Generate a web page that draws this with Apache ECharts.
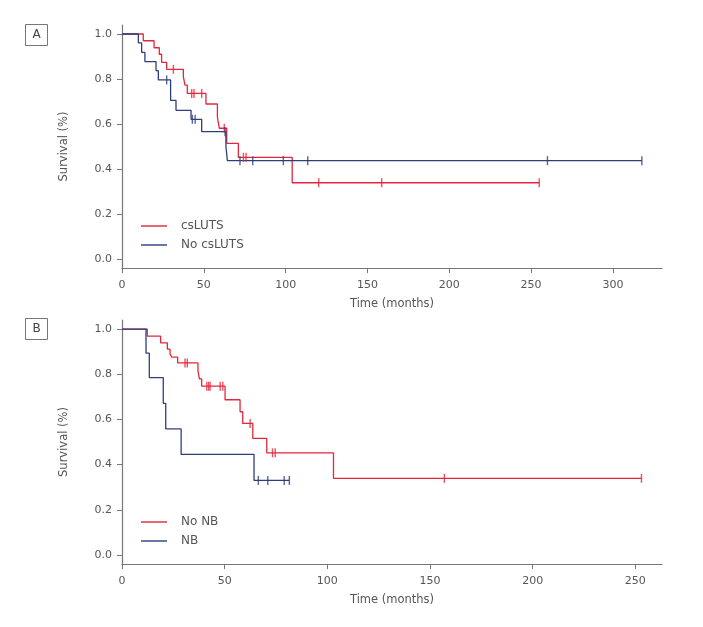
<!DOCTYPE html>
<html><head><meta charset="utf-8">
<script src="https://cdn.jsdelivr.net/npm/echarts@6/dist/echarts.min.js"></script>
<style>html,body{margin:0;padding:0;background:#fff}#c{width:703px;height:627px}</style>
</head><body><div id="c"></div>
<script>
// Panel A
const aRedName = 'csLUTS';
const aRedTimes = [0, 13, 19.6, 22.8, 24.2, 27.3, 37.5, 38.5, 39.9, 51.3, 58.3, 59.5, 64, 71.1, 104];
const aRedSurv  = [1, 0.970, 0.939, 0.910, 0.874, 0.843, 0.810, 0.773, 0.736, 0.689, 0.630, 0.581, 0.514, 0.452, 0.339];
const aRedEnd = 255;
const aRedCensor = [31.4, 42.6, 44, 48.7, 62.5, 74.2, 75.8, 120.2, 158.7, 255];

const aBlueName = 'No csLUTS';
const aBlueTimes = [0, 10, 12, 14, 20.8, 22.2, 29.7, 33, 42.2, 48.7, 63.5, 64.4];
const aBlueSurv  = [1, 0.961, 0.918, 0.877, 0.837, 0.796, 0.705, 0.661, 0.621, 0.566, 0.50, 0.437];
const aBlueEnd = 317.7;
const aBlueCensor = [27.3, 43, 44.7, 63, 72.1, 79.9, 98.6, 113.5, 260, 317.7];

// Panel B
const bRedName = 'No NB';
const bRedTimes = [0, 12.3, 18.8, 22.1, 23.4, 24.2, 27.1, 37, 37.7, 38.8, 50.2, 57.5, 58.8, 63.7, 70.5, 103];
const bRedSurv  = [1, 0.969, 0.939, 0.911, 0.89, 0.876, 0.85, 0.815, 0.779, 0.747, 0.687, 0.634, 0.582, 0.516, 0.452, 0.339];
const bRedEnd = 253;
const bRedCensor = [30.7, 31.8, 41.3, 42.2, 42.9, 47.8, 49.1, 62.4, 73.3, 74.6, 157, 253];

const bBlueName = 'NB';
const bBlueTimes = [0, 11.7, 13.3, 20.1, 21.3, 28.8, 64.3];
const bBlueSurv  = [1, 0.893, 0.785, 0.671, 0.558, 0.445, 0.33];
const bBlueEnd = 81.5;
const bBlueCensor = [66.4, 71, 79, 81.5];

const yTicks = [0, 0.2, 0.4, 0.6, 0.8, 1.0];
const xTicksA = [0, 50, 100, 150, 200, 250, 300];
const xTicksB = [0, 50, 100, 150, 200, 250];

const RED = '#e3263b', BLUE = '#2c3e7e', AX = '#777', TXT = '#555';
const FONT = 'DejaVu Sans';

function stepData(times, surv, end) {
  const d = times.map((t, i) => [t, surv[i]]);
  d.push([end, surv[surv.length - 1]]);
  return d;
}
function censorData(times, surv, cens) {
  return cens.map(c => {
    let idx = 0;
    for (let i = 0; i < times.length; i++) if (times[i] <= c) idx = i;
    return [c, surv[idx]];
  });
}
function lineSeries(name, color, times, surv, end, ax) {
  return { name, type: 'line', step: 'end', xAxisIndex: ax, yAxisIndex: ax,
    data: stepData(times, surv, end), symbol: 'none', showSymbol: false,
    lineStyle: { color, width: 1.3 }, itemStyle: { color }, animation: false, z: 3 };
}
function censorSeries(name, color, times, surv, cens, ax) {
  return { name, type: 'scatter', xAxisIndex: ax, yAxisIndex: ax,
    data: censorData(times, surv, cens), symbol: 'rect', symbolSize: [1.4, 9],
    itemStyle: { color }, animation: false, z: 4, silent: true };
}
function xAxis(idx, max, ticks) {
  return { type: 'value', gridIndex: idx, min: 0, max,
    name: 'Time (months)', nameLocation: 'middle', nameGap: 30,
    nameTextStyle: { color: TXT, fontSize: 11.5, fontFamily: FONT },
    axisLine: { onZero: false, lineStyle: { color: AX, width: 1.2 } },
    axisTick: { show: true, length: 5, lineStyle: { color: AX }, customValues: ticks },
    axisLabel: { color: TXT, fontSize: 11, fontFamily: FONT, margin: 12, customValues: ticks },
    splitLine: { show: false } };
}
function yAxis(idx) {
  return { type: 'value', gridIndex: idx, min: -0.04, max: 1.04,
    name: 'Survival (%)', nameLocation: 'middle', nameGap: 52,
    nameTextStyle: { color: TXT, fontSize: 11.5, fontFamily: FONT },
    axisLine: { show: true, lineStyle: { color: AX, width: 1.2 } },
    axisTick: { show: true, length: 5, lineStyle: { color: AX }, customValues: yTicks },
    axisLabel: { color: TXT, fontSize: 11, fontFamily: FONT, margin: 10, customValues: yTicks,
      formatter: v => v.toFixed(1) },
    splitLine: { show: false } };
}
function legend(names, top) {
  return { data: names, left: 136, top, orient: 'vertical', icon: 'rect',
    itemWidth: 26, itemHeight: 1.4, itemGap: 7,
    textStyle: { color: TXT, fontSize: 12, fontFamily: FONT, padding: [0, 0, 0, 9] },
    selectedMode: false };
}
function panelLabel(txt, y) {
  return { type: 'group', left: 25, top: y, children: [
    { type: 'rect', shape: { x: 0, y: 0, width: 22, height: 21 }, style: { fill: '#fff', stroke: AX, lineWidth: 1 } },
    { type: 'text', x: 11, y: 10.5, style: { text: txt, fill: '#444', font: '12px ' + FONT, textAlign: 'center', textVerticalAlign: 'middle' } }
  ]};
}

const chart = echarts.init(document.getElementById('c'));
chart.setOption({
  backgroundColor: '#fff',
  animation: false,
  textStyle: { fontFamily: FONT },
  grid: [
    { left: 122, top: 25, width: 540, height: 243 },
    { left: 122, top: 320, width: 540, height: 244 }
  ],
  xAxis: [xAxis(0, 330, xTicksA), xAxis(1, 263, xTicksB)],
  yAxis: [yAxis(0), yAxis(1)],
  legend: [legend([aRedName, aBlueName], 215), legend([bRedName, bBlueName], 511)],
  graphic: [panelLabel('A', 24), panelLabel('B', 318)],
  series: [
    lineSeries(aRedName, RED, aRedTimes, aRedSurv, aRedEnd, 0),
    lineSeries(aBlueName, BLUE, aBlueTimes, aBlueSurv, aBlueEnd, 0),
    censorSeries('aRedC', RED, aRedTimes, aRedSurv, aRedCensor, 0),
    censorSeries('aBlueC', BLUE, aBlueTimes, aBlueSurv, aBlueCensor, 0),
    lineSeries(bRedName, RED, bRedTimes, bRedSurv, bRedEnd, 1),
    lineSeries(bBlueName, BLUE, bBlueTimes, bBlueSurv, bBlueEnd, 1),
    censorSeries('bRedC', RED, bRedTimes, bRedSurv, bRedCensor, 1),
    censorSeries('bBlueC', BLUE, bBlueTimes, bBlueSurv, bBlueCensor, 1)
  ]
});
</script></body></html>
